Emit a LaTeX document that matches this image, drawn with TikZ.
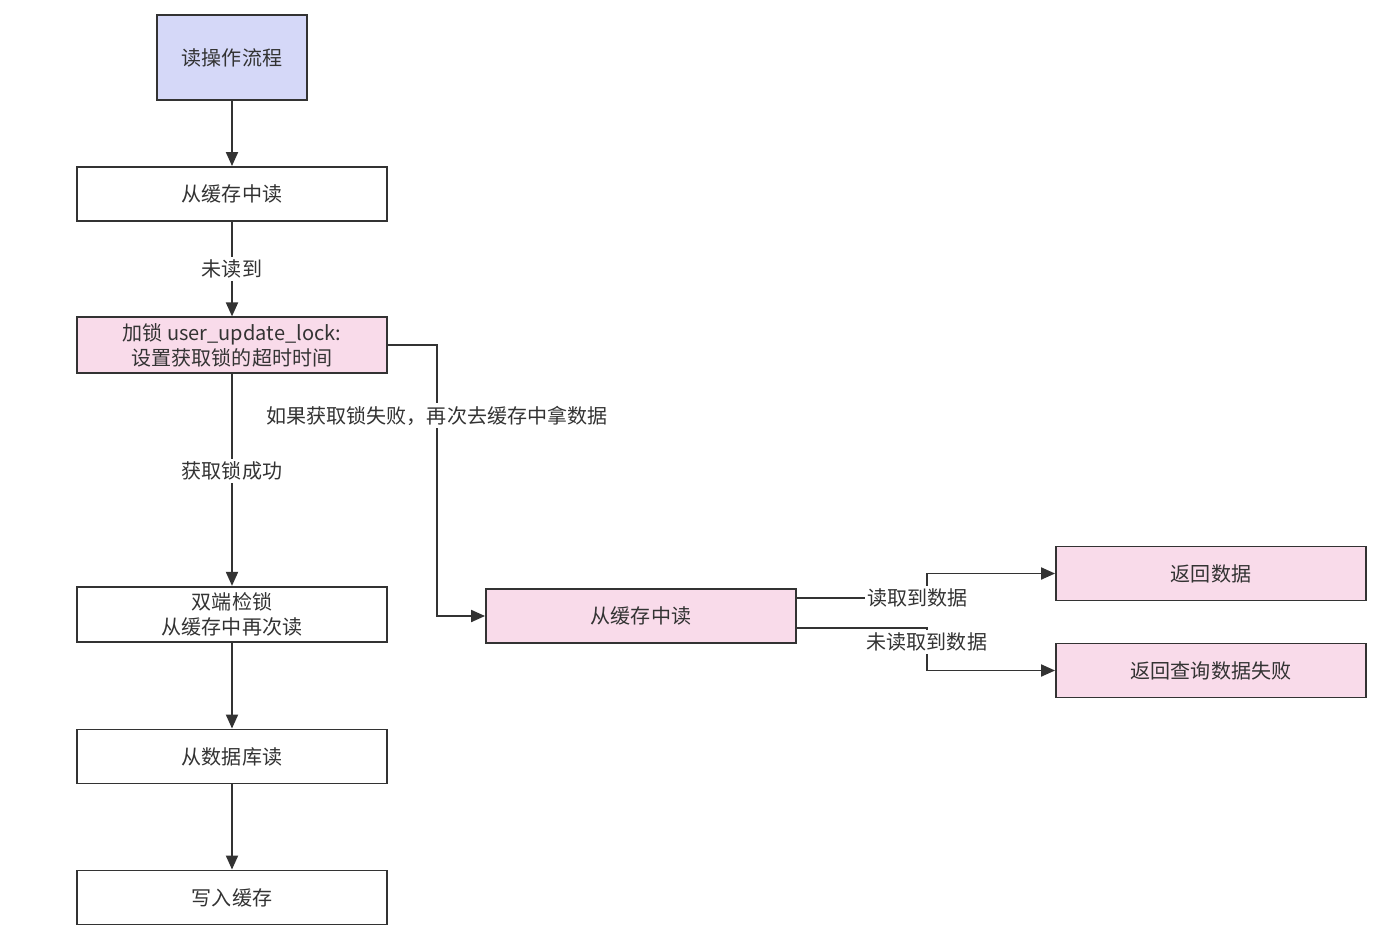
\documentclass[tikz,border=0pt]{standalone}
\usepackage{fontspec}
\setmainfont{Noto Sans CJK SC}
\usepackage{xcolor}
\usetikzlibrary{arrows.meta}
\definecolor{flow-line}{HTML}{333333}
\definecolor{flow-text}{HTML}{333333}
\definecolor{start-fill}{HTML}{D5D8F8}
\definecolor{pink-fill}{HTML}{F9DBEA}
\tikzset{
    flow-font/.style = {font=\fontsize{11.4}{14.2}\selectfont},
    flow-box/.style = {draw=flow-line, fill=white, line width=1.1pt, rectangle, minimum width=6.2cm, minimum height=1.08cm, align=center, text=flow-text, flow-font},
    start-box/.style = {flow-box, fill=start-fill, minimum width=3cm, minimum height=1.7cm},
    pink-box/.style = {flow-box, fill=pink-fill},
    flow-arrow/.style = {draw=flow-line, line width=1.1pt, -{Triangle[length=2.8mm,width=2.4mm]}},
    edge-label/.style = {fill=white, text=flow-text, inner sep=1.5pt, flow-font},
}

\begin{document}
\begin{tikzpicture}[x=0.02cm, y=-0.02cm]
\useasboundingbox (0,0) rectangle (1387,951);

% left column
\node [start-box] (start) at (232,57.5) {读操作流程};
\node [flow-box] (cache) at (232,194) {从缓存中读};
\node [pink-box] (lock) at (232,345) {加锁 user\_update\_lock:\\设置获取锁的超时时间};
\node [flow-box] (recheck) at (232,614.5) {双端检锁\\从缓存中再次读};
\node [flow-box] (db) at (232,756.5) {从数据库读};
\node [flow-box] (write) at (232,897.5) {写入缓存};

% right part
\node [pink-box] (cache-again) at (641,616) {从缓存中读};
\node [pink-box] (ret) at (1211,573.5) {返回数据};
\node [pink-box] (fail) at (1211,670.5) {返回查询数据失败};

\draw [flow-arrow] (start) -- (cache);
\draw [flow-arrow] (cache) -- node[edge-label, pos=0.5] {未读到} (lock);
\draw [flow-arrow] (lock) -- node[edge-label, pos=0.46] {获取锁成功} (recheck);
\draw [flow-arrow] (recheck) -- (db);
\draw [flow-arrow] (db) -- (write);

\draw [flow-arrow] (lock.east) -- (437,345) -- node[edge-label, pos=0.26] {如果获取锁失败，再次去缓存中拿数据} (437,616) -- (cache-again.west);

\draw [flow-arrow] (cache-again.east) ++(0,-18) -- ++(130,0) node[edge-label, xshift=-1.8mm] {读取到数据} |- (ret.west);
\draw [flow-arrow] (cache-again.east) ++(0,12) -- ++(130,0) node[edge-label, yshift=-2.8mm] {未读取到数据} |- (fail.west);
\end{tikzpicture}
\end{document}
